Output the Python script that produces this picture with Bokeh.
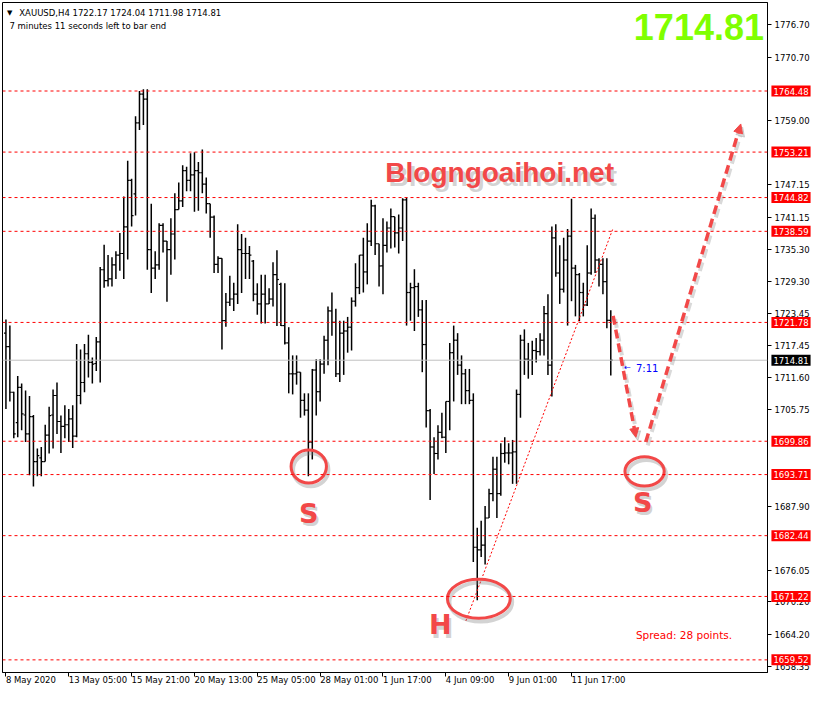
from bokeh.plotting import figure
from bokeh.models import Range1d, FixedTicker, Label, Span, Arrow, NormalHead, ColumnDataSource
from bokeh.embed import file_html
from bokeh.resources import INLINE
from bokeh.core.properties import value

FONT = "DejaVu Sans"

# ---- OHLC data (H4 bars, XAUUSD) ----
opens = [1719.8, 1717.3, 1708.9, 1703.3, 1709.8, 1704.7, 1701.2, 1704.4, 1696.1, 1696.8,
         1696.1, 1701.0, 1704.7, 1708.3, 1703.5, 1702.6, 1702.9, 1704.0, 1700.8, 1708.3,
         1710.7, 1716.0, 1714.4, 1714.2, 1718.2, 1731.5, 1729.5, 1729.8, 1732.4, 1734.2,
         1734.5, 1739.4, 1748.0, 1745.5, 1758.6, 1763.9, 1763.0, 1735.2, 1731.8, 1732.4,
         1739.7, 1736.8, 1735.2, 1738.1, 1742.6, 1744.2, 1749.8, 1748.0, 1749.0, 1749.8,
         1749.4, 1747.3, 1743.7, 1741.2, 1732.5, 1733.6, 1722.1, 1725.5, 1726.1, 1727.0,
         1735.2, 1734.5, 1734.5, 1733.1, 1727.0, 1725.2, 1727.0, 1725.2, 1726.1, 1730.6,
         1728.8, 1721.2, 1718.0, 1712.3, 1712.3, 1712.6, 1707.4, 1705.6, 1699.7, 1713.0,
         1709.0, 1714.1, 1718.5, 1723.9, 1721.8, 1712.3, 1719.8, 1720.2, 1720.9, 1725.7,
         1728.2, 1734.2, 1731.1, 1736.8, 1743.3, 1736.3, 1732.2, 1736.0, 1739.2, 1741.3,
         1738.3, 1739.2, 1744.4, 1727.3, 1728.2, 1728.4, 1724.1, 1717.7, 1705.5, 1698.8,
         1697.6, 1701.5, 1700.6, 1707.2, 1716.2, 1718.5, 1713.9, 1712.3, 1709.2, 1707.4,
         1680.3, 1679.8, 1680.7, 1685.7, 1690.2, 1694.7, 1690.2, 1697.6, 1697.7, 1697.7,
         1697.9, 1708.5, 1718.5, 1715.0, 1714.8, 1716.6, 1716.4, 1718.5, 1723.4, 1713.9,
         1737.4, 1730.9, 1727.9, 1733.3, 1737.7, 1731.8, 1730.6, 1727.3, 1725.0, 1730.9,
         1741.0, 1733.3, 1732.5, 1729.3, 1722.17]
highs = [1722.3, 1721.2, 1709.0, 1711.9, 1710.5, 1709.2, 1708.2, 1704.7, 1698.5, 1698.8,
         1702.9, 1706.2, 1709.4, 1710.7, 1704.6, 1706.5, 1705.8, 1706.5, 1717.8, 1716.8,
         1717.8, 1719.5, 1715.3, 1719.1, 1732.0, 1736.1, 1734.2, 1733.8, 1734.9, 1738.3,
         1745.0, 1751.6, 1748.3, 1759.8, 1764.5, 1764.8, 1764.8, 1743.7, 1734.9, 1740.1,
         1740.1, 1736.8, 1741.0, 1745.6, 1747.6, 1750.8, 1750.5, 1753.0, 1753.2, 1751.4,
         1753.7, 1748.5, 1743.7, 1741.5, 1734.0, 1733.6, 1727.2, 1730.4, 1729.1, 1739.9,
         1738.1, 1737.4, 1735.9, 1733.3, 1729.0, 1730.6, 1730.6, 1728.1, 1732.9, 1735.1,
         1729.1, 1729.0, 1720.9, 1715.7, 1715.7, 1712.6, 1708.7, 1708.7, 1713.2, 1715.0,
         1715.0, 1719.3, 1724.7, 1727.3, 1724.3, 1722.1, 1722.1, 1722.8, 1726.4, 1732.7,
         1734.2, 1737.4, 1740.1, 1744.4, 1743.5, 1736.3, 1741.0, 1740.4, 1742.8, 1741.3,
         1741.7, 1744.7, 1744.9, 1729.1, 1731.6, 1729.1, 1725.9, 1725.9, 1705.8, 1700.6,
         1702.8, 1705.1, 1707.2, 1718.0, 1721.2, 1719.8, 1715.7, 1713.2, 1713.2, 1708.7,
         1683.9, 1685.2, 1687.9, 1691.1, 1697.0, 1697.0, 1699.5, 1700.6, 1699.5, 1700.1,
         1709.4, 1719.5, 1720.5, 1718.0, 1718.4, 1718.9, 1719.8, 1724.8, 1727.0, 1739.5,
         1739.9, 1736.0, 1737.4, 1739.0, 1744.6, 1732.4, 1730.9, 1729.1, 1736.0, 1742.8,
         1741.7, 1733.6, 1733.6, 1733.6, 1724.04]
lows = [1705.8, 1707.2, 1700.4, 1700.6, 1701.9, 1699.7, 1693.6, 1691.5, 1693.4, 1693.4,
        1696.1, 1697.6, 1698.5, 1701.2, 1697.7, 1700.4, 1699.7, 1698.6, 1700.6, 1706.7,
        1708.9, 1711.6, 1710.5, 1712.8, 1710.7, 1728.2, 1728.4, 1728.4, 1729.8, 1731.3,
        1729.8, 1733.4, 1739.5, 1741.5, 1757.3, 1758.2, 1731.5, 1727.2, 1729.8, 1731.5,
        1734.7, 1725.6, 1730.6, 1733.4, 1742.6, 1743.1, 1746.0, 1746.0, 1742.2, 1742.4,
        1745.6, 1741.9, 1737.4, 1730.9, 1730.9, 1716.8, 1721.0, 1724.8, 1723.9, 1725.2,
        1727.2, 1729.8, 1729.8, 1725.7, 1723.2, 1721.6, 1721.6, 1725.2, 1724.7, 1721.1,
        1721.1, 1717.7, 1708.7, 1708.5, 1710.3, 1704.2, 1704.6, 1693.4, 1696.5, 1704.6,
        1707.2, 1712.3, 1713.9, 1719.3, 1711.7, 1710.8, 1712.1, 1716.2, 1716.6, 1724.7,
        1727.0, 1727.3, 1728.8, 1735.9, 1734.2, 1728.4, 1727.0, 1734.7, 1735.4, 1735.6,
        1734.5, 1736.8, 1721.2, 1722.1, 1720.2, 1722.8, 1712.6, 1702.4, 1689.0, 1693.8,
        1696.5, 1700.4, 1697.7, 1701.9, 1707.2, 1712.1, 1706.7, 1706.7, 1706.7, 1677.6,
        1670.5, 1678.5, 1677.1, 1685.7, 1688.8, 1685.7, 1689.8, 1695.9, 1695.6, 1692.0,
        1692.0, 1704.2, 1712.1, 1711.4, 1712.1, 1714.4, 1715.7, 1715.7, 1712.1, 1708.1,
        1730.2, 1725.2, 1727.3, 1721.2, 1725.7, 1722.9, 1722.0, 1722.9, 1724.8, 1730.6,
        1730.9, 1728.4, 1727.0, 1720.7, 1711.98]
closes = [1717.3, 1708.9, 1701.2, 1709.8, 1704.9, 1701.2, 1704.4, 1696.1, 1697.2, 1696.1,
          1701.0, 1704.6, 1708.3, 1703.5, 1702.6, 1702.9, 1704.0, 1700.8, 1708.3, 1710.7,
          1716.0, 1714.4, 1714.1, 1718.2, 1731.5, 1729.5, 1729.8, 1732.4, 1734.2, 1734.5,
          1739.4, 1748.0, 1741.5, 1758.6, 1763.9, 1763.0, 1735.2, 1731.8, 1732.4, 1739.7,
          1736.8, 1735.2, 1738.1, 1742.6, 1744.2, 1749.8, 1748.0, 1749.0, 1749.8, 1749.4,
          1747.3, 1743.7, 1741.2, 1732.5, 1733.6, 1722.1, 1725.5, 1726.1, 1727.0, 1735.2,
          1734.5, 1734.5, 1734.2, 1727.0, 1725.2, 1727.0, 1725.2, 1726.1, 1730.6, 1729.7,
          1721.2, 1718.0, 1712.3, 1712.3, 1712.6, 1707.4, 1705.6, 1699.7, 1713.0, 1709.0,
          1714.1, 1718.5, 1723.9, 1721.8, 1712.3, 1719.8, 1720.2, 1720.9, 1725.7, 1728.2,
          1734.2, 1731.1, 1736.8, 1743.3, 1736.3, 1732.2, 1736.0, 1739.2, 1741.3, 1738.3,
          1739.2, 1744.4, 1727.3, 1728.2, 1728.4, 1724.1, 1717.7, 1705.5, 1698.8, 1697.6,
          1701.5, 1700.6, 1707.2, 1716.2, 1718.5, 1713.9, 1712.3, 1709.2, 1707.4, 1680.3,
          1679.8, 1680.7, 1685.7, 1690.2, 1694.7, 1690.2, 1697.6, 1697.7, 1697.7, 1697.9,
          1708.5, 1718.5, 1715.0, 1714.8, 1716.6, 1716.4, 1718.5, 1723.4, 1713.9, 1737.4,
          1730.9, 1727.9, 1733.3, 1737.7, 1731.8, 1730.6, 1727.3, 1725.0, 1730.9, 1741.0,
          1733.3, 1732.5, 1729.3, 1722.17, 1714.81]

date_ticks = [0, 16, 32, 48, 64, 80, 96, 112, 128, 144]
date_labels = ["8 May 2020", "13 May 05:00", "15 May 21:00", "20 May 13:00", "25 May 05:00",
               "28 May 01:00", "1 Jun 17:00", "4 Jun 09:00", "9 Jun 01:00", "11 Jun 17:00"]
price_ticks = [1776.70, 1770.70, 1759.00, 1747.15, 1741.15, 1735.30, 1729.30, 1723.45,
               1717.45, 1711.60, 1705.75, 1687.90, 1676.05, 1670.20, 1664.20, 1658.35]
levels = [1764.48, 1753.21, 1744.82, 1738.59, 1721.78, 1699.86, 1693.71, 1682.44, 1671.22, 1659.52]
last_price = 1714.81
header = "XAUUSD,H4  1722.17 1724.04 1711.98 1714.81"
subheader = "7 minutes 11 seconds left to bar end"

# annotation positions (bar index, price)
circles_x = [77.1, 120.4, 162.6]
circles_y = [1695.2, 1670.8, 1694.3]
circles_w = [9.0, 16.0, 10.0]
circles_h = [6.1, 7.2, 5.4]
letters = ["S", "H", "S"]
letters_x = [77.1, 110.6, 162.1]
letters_y = [1686.6, 1666.0, 1688.6]
arrows = [((154.6, 1723.0), (160.4, 1700.6)), ((162.9, 1699.7), (187.1, 1758.4))]
trend = ((117.1, 1666.7), (154.6, 1739.2))

RED = "#FF0000"
MARK = "#F24848"
SHADOW = "#808080"

p = figure(frame_width=765, frame_height=670, output_backend="svg", toolbar_location=None,
           x_range=Range1d(-0.875, 193.9), y_range=Range1d(1657.19, 1780.81),
           y_axis_location="right", min_border_left=2, min_border_top=2,
           min_border_right=48, min_border_bottom=22)
p.grid.visible = False
p.outline_line_color = "black"
p.outline_line_width = 1
p.background_fill_color = "white"
p.border_fill_color = "white"

ya = p.yaxis[0]
ya.ticker = FixedTicker(ticks=price_ticks)
ya.major_label_overrides = {t: f"{t:.2f}" for t in price_ticks}
ya.major_tick_out = 4
ya.major_tick_in = 0
ya.minor_tick_out = 0
ya.minor_tick_in = 0
ya.major_label_standoff = 3
ya.axis_line_color = "black"
ya.major_label_text_font = FONT
ya.major_label_text_font_size = "8.5px"
ya.major_label_text_color = "black"

xa = p.xaxis[0]
xa.ticker = FixedTicker(ticks=date_ticks)
xa.major_label_overrides = {t: l for t, l in zip(date_ticks, date_labels)}
xa.major_label_orientation = -0.0001
xa.major_tick_out = 4
xa.major_tick_in = 0
xa.minor_tick_out = 0
xa.minor_tick_in = 0
xa.major_label_standoff = 3
xa.axis_line_color = "black"
xa.major_label_text_font = FONT
xa.major_label_text_font_size = "8.5px"
xa.major_label_text_color = "black"

# level lines
for lvl in levels:
    p.add_layout(Span(location=lvl, dimension="width", line_color=RED, line_dash="3 3", line_width=1))
p.add_layout(Span(location=last_price, dimension="width", line_color="#C0C0C0", line_width=1))

# OHLC bars
idx = list(range(len(opens)))
src = ColumnDataSource(dict(x=idx, o=opens, h=highs, l=lows, c=closes,
                            xl=[i - 0.5 for i in idx], xr=[i + 0.5 for i in idx]))
p.segment(x0="x", y0="l", x1="x", y1="h", source=src, line_color="black", line_width=1.5)
p.segment(x0="xl", y0="o", x1="x", y1="o", source=src, line_color="black", line_width=1.2)
p.segment(x0="x", y0="c", x1="xr", y1="c", source=src, line_color="black", line_width=1.2)

# trend line
p.line([trend[0][0], trend[1][0]], [trend[0][1], trend[1][1]], line_color=RED, line_dash="2 2", line_width=1)

# circles with shadow
p.ellipse(x=[v + 0.5 for v in circles_x], y=[v - 0.6 for v in circles_y], width=circles_w, height=circles_h,
          fill_color=None, line_color=SHADOW, line_alpha=0.35, line_width=4)
p.ellipse(x=circles_x, y=circles_y, width=circles_w, height=circles_h,
          fill_color=None, line_color=MARK, line_width=3)

# arrows with shadow
for (s, e) in arrows:
    p.add_layout(Arrow(end=NormalHead(size=9, fill_color=SHADOW, fill_alpha=0.3, line_color=SHADOW, line_alpha=0.3),
                       x_start=s[0] + 0.5, y_start=s[1] - 0.6, x_end=e[0] + 0.5, y_end=e[1] - 0.6,
                       line_color=SHADOW, line_alpha=0.3, line_width=4, line_dash="9 5"))
    p.add_layout(Arrow(end=NormalHead(size=9, fill_color=MARK, line_color=MARK),
                       x_start=s[0], y_start=s[1], x_end=e[0], y_end=e[1],
                       line_color=MARK, line_width=3.5, line_dash="9 5"))

# letters
for t, x, y in zip(letters, letters_x, letters_y):
    p.add_layout(Label(x=x + 0.5, y=y - 0.6, text=t, text_color=SHADOW, text_alpha=0.35, text_font=FONT,
                       text_font_style="bold", text_font_size="27px", text_align="center", text_baseline="middle"))
    p.add_layout(Label(x=x, y=y, text=t, text_color=MARK, text_font=FONT,
                       text_font_style="bold", text_font_size="27px", text_align="center", text_baseline="middle"))

# watermark text
p.add_layout(Label(x=97.4, y=1748.7, text="Blogngoaihoi.net", text_color=SHADOW, text_alpha=0.35,
                   text_font="Liberation Sans", text_font_style="bold", text_font_size="28px",
                   text_baseline="middle"))
p.add_layout(Label(x=96.6, y=1749.4, text="Blogngoaihoi.net", text_color=MARK,
                   text_font="Liberation Sans", text_font_style="bold", text_font_size="28px",
                   text_baseline="middle"))

# header texts
p.add_layout(Label(x=0.3, y=1778.8, text="\u25bc", text_color="black", text_font=FONT,
                   text_font_size="7px", text_baseline="middle"))
p.add_layout(Label(x=3.4, y=1778.8, text=header, text_color="black", text_font=FONT,
                   text_font_size="8.5px", text_baseline="middle"))
p.add_layout(Label(x=0.9, y=1776.4, text=subheader, text_color="black", text_font=FONT,
                   text_font_size="8.5px", text_baseline="middle"))

# big price
p.add_layout(Label(x=193.0, y=1776.3, text=f"{last_price:.2f}", text_color="#80FF00",
                   text_font="Liberation Sans", text_font_style="bold", text_font_size="36px",
                   text_align="right", text_baseline="middle"))

# spread and countdown
p.add_layout(Label(x=160.4, y=1664.2, text="Spread: 28 points.", text_color=RED, text_font=FONT,
                   text_font_size="10.5px", text_baseline="middle"))
p.add_layout(Label(x=157.4, y=1713.4, text="\u2190", text_color="#0000FF", text_font=FONT,
                   text_font_size="8px", text_baseline="middle"))
p.add_layout(Label(x=160.4, y=1713.3, text="7:11", text_color="#0000FF", text_font=FONT,
                   text_font_size="10px", text_baseline="middle"))

# price tags on the axis (placed in the right side panel so they are not clipped)
TAG_X = 194.9
for lvl in levels:
    p.add_layout(Label(x=TAG_X, y=lvl, text=f"{lvl:.2f}", text_color="white", background_fill_color=RED,
                       text_font=FONT, text_font_size="8.5px", text_baseline="middle", text_align="left",
                       padding=2), "right")
p.add_layout(Label(x=TAG_X, y=last_price, text=f"{last_price:.2f}", text_color="white",
                   background_fill_color="black", text_font=FONT, text_font_size="8.5px",
                   text_baseline="middle", text_align="left", padding=2), "right")

open("out.html", "w").write(file_html(p, INLINE))
